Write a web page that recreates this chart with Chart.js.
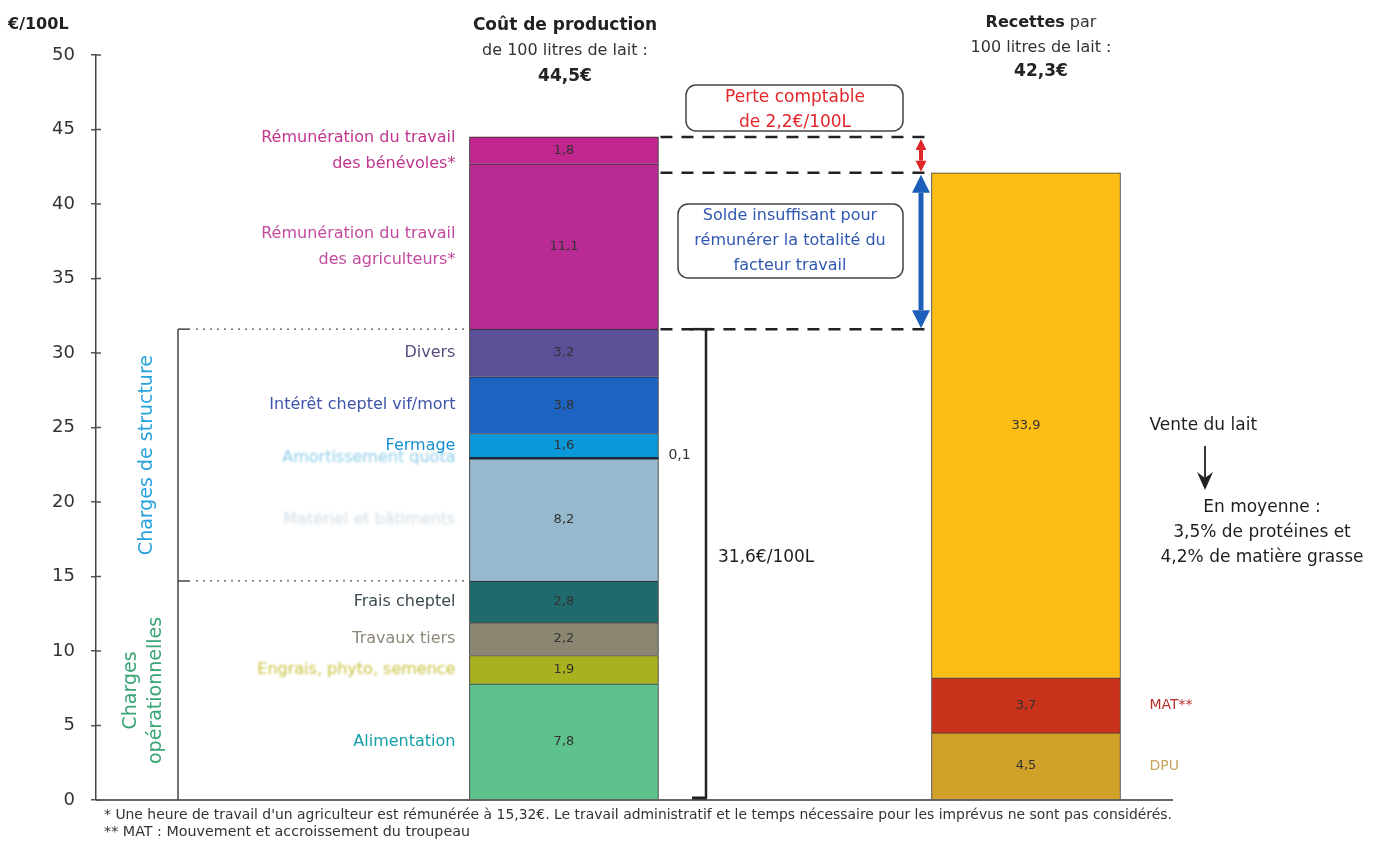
<!DOCTYPE html>
<html lang="fr">
<head>
<meta charset="utf-8">
<title>Coût de production et recettes du lait</title>
<script src="https://cdn.jsdelivr.net/npm/chart.js@4.4.1/dist/chart.umd.min.js"></script>
<style>
  html, body { margin: 0; padding: 0; background: #fff; }
  #wrap { position: relative; width: 1375px; height: 842px; }
</style>
</head>
<body>
<div id="wrap"><canvas id="milkChart"></canvas></div>
<script>
// Coût de production vs recettes pour 100 litres de lait (€/100L)

const costLabels = [
  'Alimentation',
  'Engrais, phyto, semence',
  'Travaux tiers',
  'Frais cheptel',
  'Matériel et bâtiments',
  'Amortissement quota',
  'Fermage',
  'Intérêt cheptel vif/mort',
  'Divers',
  ['Rémunération du travail', 'des agriculteurs*'],
  ['Rémunération du travail', 'des bénévoles*']
]
const costValues = [7.8, 1.9, 2.2, 2.8, 8.2, 0.1, 1.6, 3.8, 3.2, 11.1, 1.8]

const revenueLabels = ['DPU', 'MAT**', 'Vente du lait']
const revenueValues = [4.5, 3.7, 33.9]

const yTicks = [0, 5, 10, 15, 20, 25, 30, 35, 40, 45, 50]

const costTitle = ['Coût de production', 'de 100 litres de lait :', '44,5€']
const revenueTitle = ['Recettes', ' par', '100 litres de lait :', '42,3€']
const lossText = ['Perte comptable', 'de 2,2€/100L']
const balanceText = ['Solde insuffisant pour', 'rémunérer la totalité du', 'facteur travail']
const milkNote = ['En moyenne :', '3,5% de protéines et', '4,2% de matière grasse']
const footnotes = [
  '* Une heure de travail d\'un agriculteur est rémunérée à 15,32€. Le travail administratif et le temps nécessaire pour les imprévus ne sont pas considérés.',
  '** MAT : Mouvement et accroissement du troupeau'
]

// styling
const FONT = "'DejaVu Sans', 'Liberation Sans', sans-serif"
const costColors = ['#5dc28c', '#a9b21e', '#8b8672', '#1f6a6c', '#97b9cd', '#1c2b3a', '#0b98d9', '#1d64c2', '#5b4f98', '#b82b92', '#c0268e']
const costTextColors = ['#17a0a6', '#c8c23c', '#8d887a', '#3b4b52', '#d0dce5', '#8fcdea', '#1791d2', '#3c55a8', '#5b4a7e', '#c24a9f', '#c0358f']
const costTextBlur = [0, 1.2, 0, 0, 1.6, 0.9, 0, 0, 0, 0, 0]
const revenueColors = ['#d1a12a', '#c9321b', '#fcbd14']
const revenueTextColors = ['#c9a55a', '#b8302a', '#1e1e1e']
const columnX = [4.345, 8.635]   // bar centres on the hidden linear x axis
const BAR_W = 189

const sum = (arr, n) => arr.slice(0, n === undefined ? arr.length : n).reduce((s, v) => s + v, 0)
const fmt = (v) => v.toFixed(1).replace('.', ',')

const datasets = []
costValues.forEach((v, i) => datasets.push({
  label: Array.isArray(costLabels[i]) ? costLabels[i].join(' ') : costLabels[i],
  data: [{ x: columnX[0], y: v }],
  backgroundColor: costColors[i],
  borderColor: '#2b2b2b',
  borderWidth: i === 5 ? 0 : 1,
  meta: { side: 'cost', index: i }
}))
revenueValues.forEach((v, i) => datasets.push({
  label: revenueLabels[i],
  data: [{ x: columnX[1], y: v }],
  backgroundColor: revenueColors[i],
  borderColor: '#3a3a3a',
  borderWidth: 1,
  meta: { side: 'revenue', index: i }
}))

function text(ctx, s, x, y, o) {
  o = o || {}
  ctx.save()
  ctx.font = (o.bold ? 'bold ' : '') + (o.size || 16) + 'px ' + FONT
  ctx.fillStyle = o.color || '#222'
  ctx.textAlign = o.align || 'left'
  ctx.textBaseline = 'middle'
  if (o.blur) ctx.filter = 'blur(' + o.blur + 'px)'
  if (o.width) {
    // squeeze to a given width (condensed footnotes)
    const w = ctx.measureText(s).width
    ctx.translate(x, y)
    ctx.scale(o.width / w, 1)
    ctx.fillText(s, 0, 0)
  } else {
    ctx.fillText(s, x, y)
  }
  ctx.restore()
}

function line(ctx, x1, y1, x2, y2, color, width, dash) {
  ctx.save()
  ctx.strokeStyle = color
  ctx.lineWidth = width
  ctx.setLineDash(dash || [])
  ctx.beginPath()
  ctx.moveTo(x1, y1)
  ctx.lineTo(x2, y2)
  ctx.stroke()
  ctx.restore()
}

function doubleArrow(ctx, x, y1, y2, color, width, head) {
  ctx.save()
  ctx.strokeStyle = color
  ctx.fillStyle = color
  ctx.lineWidth = width
  ctx.beginPath()
  ctx.moveTo(x, y1 + head)
  ctx.lineTo(x, y2 - head)
  ctx.stroke()
  const hw = head * 0.5
  ctx.beginPath()
  ctx.moveTo(x, y1); ctx.lineTo(x - hw, y1 + head); ctx.lineTo(x + hw, y1 + head); ctx.closePath()
  ctx.moveTo(x, y2); ctx.lineTo(x - hw, y2 - head); ctx.lineTo(x + hw, y2 - head); ctx.closePath()
  ctx.fill()
  ctx.restore()
}

function roundBox(ctx, x, y, w, h, r) {
  ctx.save()
  ctx.strokeStyle = '#444'
  ctx.lineWidth = 1.5
  ctx.fillStyle = '#fff'
  ctx.beginPath()
  ctx.roundRect(x, y, w, h, r)
  ctx.fill()
  ctx.stroke()
  ctx.restore()
}

const annotations = {
  id: 'annotations',
  afterDatasetsDraw(chart) {
    const ctx = chart.ctx
    const area = chart.chartArea
    const ys = chart.scales.y
    const yPx = (v) => ys.getPixelForValue(v)
    const xPx = (v) => chart.scales.x.getPixelForValue(v)
    const leftBar = xPx(columnX[0]) - BAR_W / 2
    const rightBar = xPx(columnX[1]) - BAR_W / 2

    // x baseline and inner halves of the y ticks
    line(ctx, area.left, area.bottom, area.right, area.bottom, '#333', 1.5)
    yTicks.forEach((t) => line(ctx, area.left, yPx(t), area.left + 5, yPx(t), '#555', 1.5))

    // values inside the segments and labels beside them
    chart.data.datasets.forEach((ds, di) => {
      const bar = chart.getDatasetMeta(di).data[0]
      const m = ds.meta
      const v = ds.data[0].y
      const cy = (bar.y + bar.base) / 2
      if (!(m.side === 'cost' && m.index === 5)) {
        text(ctx, fmt(v), bar.x, cy, { size: 13, color: '#333', align: 'center' })
      }
      if (m.side === 'cost') {
        const lbl = costLabels[m.index]
        const lines = Array.isArray(lbl) ? lbl : [lbl]
        lines.forEach((s, k) => text(ctx, s, leftBar - 14, cy + (k - (lines.length - 1) / 2) * 26,
          { size: 16, color: costTextColors[m.index], align: 'right', blur: costTextBlur[m.index] }))
      } else {
        text(ctx, revenueLabels[m.index], rightBar + 218, cy,
          { size: m.index === 2 ? 17 : 14, color: revenueTextColors[m.index], blur: m.index === 2 ? 0 : 0.6 })
      }
    })
    text(ctx, fmt(costValues[5]), leftBar + BAR_W + 10, yPx(sum(costValues, 5)) - 3, { size: 14, color: '#333' })

    const costTotal = sum(costValues)
    const structTop = sum(costValues, 9)
    const opTop = sum(costValues, 4)
    const revenueTotal = sum(revenueValues)

    // charges de structure / opérationnelles bracket
    line(ctx, 178, yPx(structTop), 178, area.bottom, '#444', 1.5)
    line(ctx, 178, yPx(structTop), 190, yPx(structTop), '#444', 1.5)
    line(ctx, 178, yPx(opTop), 190, yPx(opTop), '#444', 1.5)
    line(ctx, 196, yPx(structTop), leftBar - 2, yPx(structTop), '#555', 1.2, [2, 5])
    line(ctx, 196, yPx(opTop), leftBar - 2, yPx(opTop), '#555', 1.2, [2, 5])
    ctx.save()
    ctx.translate(147, (yPx(structTop) + yPx(opTop)) / 2)
    ctx.rotate(-Math.PI / 2)
    text(ctx, 'Charges de structure', 0, 0, { size: 19, color: '#29a3dc', align: 'center' })
    ctx.restore()
    ctx.save()
    ctx.translate(143, (yPx(opTop) + area.bottom) / 2)
    ctx.rotate(-Math.PI / 2)
    text(ctx, 'Charges', 0, -12, { size: 19, color: '#3aa574', align: 'center', blur: 0.5 })
    text(ctx, 'opérationnelles', 0, 13, { size: 19, color: '#3aa574', align: 'center', blur: 0.5 })
    ctx.restore()

    // 31,6 €/100L bracket
    const bx = 706
    line(ctx, bx, yPx(structTop), bx, area.bottom - 2, '#222', 2.5)
    line(ctx, 690, yPx(structTop), 712, yPx(structTop), '#222', 2.5)
    line(ctx, 692, area.bottom - 2, bx + 1, area.bottom - 2, '#222', 3)
    text(ctx, '31,6€/100L', 718, 558, { size: 17, color: '#1e1e1e' })

    // dashed reference lines and arrows
    const dashEnd = 928
    ;[costTotal, revenueTotal, structTop].forEach((v) =>
      line(ctx, leftBar + BAR_W + 2, yPx(v), dashEnd, yPx(v), '#222', 2.5, [12, 9]))
    doubleArrow(ctx, 921, yPx(costTotal) + 2, yPx(revenueTotal) - 1, '#e0282a', 4, 11)
    doubleArrow(ctx, 921, yPx(revenueTotal) + 2, yPx(structTop) - 1, '#1c5fb8', 5, 18)

    roundBox(ctx, 686, 85, 217, 46, 10)
    lossText.forEach((s, k) => text(ctx, s, 795, 98 + k * 25, { size: 17, color: '#e2262a', align: 'center' }))
    roundBox(ctx, 678, 204, 225, 74, 10)
    balanceText.forEach((s, k) => text(ctx, s, 790, 216 + k * 25, { size: 16, color: '#3058b0', align: 'center' }))

    // column titles
    text(ctx, costTitle[0], 565, 26, { size: 17, bold: true, color: '#222', align: 'center' })
    text(ctx, costTitle[1], 565, 51, { size: 16, color: '#333', align: 'center' })
    text(ctx, costTitle[2], 565, 77, { size: 17, bold: true, color: '#222', align: 'center' })
    ctx.save()
    ctx.font = 'bold 16px ' + FONT
    const wBold = ctx.measureText(revenueTitle[0]).width
    ctx.font = '16px ' + FONT
    const wReg = ctx.measureText(revenueTitle[1]).width
    ctx.restore()
    const rx = 1041 - (wBold + wReg) / 2
    text(ctx, revenueTitle[0], rx, 23, { size: 16, bold: true, color: '#222' })
    text(ctx, revenueTitle[1], rx + wBold, 23, { size: 16, color: '#333' })
    text(ctx, revenueTitle[2], 1041, 48, { size: 16, color: '#333', align: 'center' })
    text(ctx, revenueTitle[3], 1041, 72, { size: 17, bold: true, color: '#222', align: 'center' })
    text(ctx, '€/100L', 8, 25, { size: 16, bold: true, color: '#222' })

    // milk composition note
    line(ctx, 1205, 446, 1205, 478, '#222', 1.8)
    ctx.save()
    ctx.fillStyle = '#222'
    ctx.beginPath()
    ctx.moveTo(1205, 490); ctx.lineTo(1197, 472); ctx.lineTo(1205, 478); ctx.lineTo(1213, 472); ctx.closePath()
    ctx.fill()
    ctx.restore()
    milkNote.forEach((s, k) => text(ctx, s, 1262, 508 + k * 25, { size: 17, color: '#1e1e1e', align: 'center' }))

    // footnotes
    text(ctx, footnotes[0], 104, 815, { size: 14.5, color: '#333', width: 1068 })
    text(ctx, footnotes[1], 104, 832, { size: 14.5, color: '#333', width: 366 })
  }
}

const ctx = document.getElementById('milkChart')
ctx.width = 1375
ctx.height = 842

// eslint-disable-next-line no-undef
new Chart(ctx, {
  type: 'bar',
  data: { datasets },
  plugins: [annotations],
  options: {
    responsive: false,
    animation: false,
    barThickness: BAR_W,
    layout: { padding: { left: 40, top: 55, right: 202, bottom: 42 } },
    plugins: { legend: { display: false }, tooltip: { enabled: false } },
    scales: {
      x: { type: 'linear', min: 0, max: 10, offset: false, display: false, stacked: true },
      y: {
        stacked: true,
        min: 0,
        max: 50,
        afterBuildTicks: (s) => { s.ticks = yTicks.map((v) => ({ value: v })) },
        afterFit: (s) => { s.width = 56 },
        ticks: { font: { size: 18, family: FONT }, color: '#333', padding: 16 },
        grid: { drawOnChartArea: false, tickLength: 5, color: '#555', lineWidth: 1.5 },
        border: { color: '#444', width: 1.5 }
      }
    }
  }
})
</script>
</body>
</html>
